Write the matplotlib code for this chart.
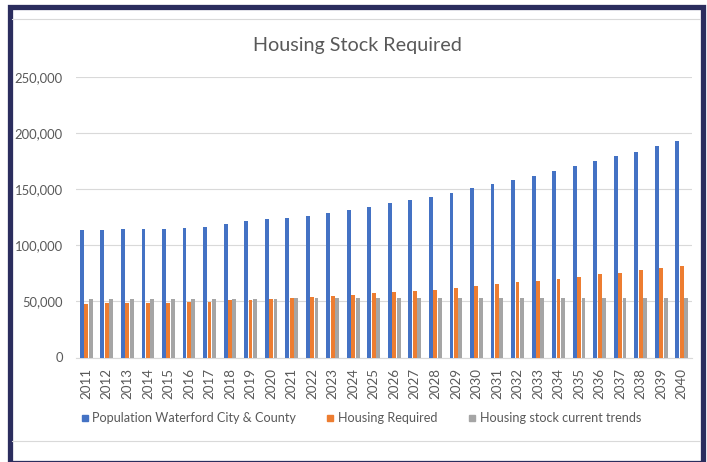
import numpy as np
import matplotlib
matplotlib.use("Agg")
from matplotlib import pyplot as plt
from matplotlib.patches import Rectangle
from matplotlib.lines import Line2D
from matplotlib.ticker import FuncFormatter

plt.rcParams['font.family'] = ['Lato', 'DejaVu Sans']

# data
years = [str(y) for y in range(2011, 2041)]
population = [113400, 114000, 114300, 114600, 114900, 115500, 116700, 119000,
              121400, 123200, 124700, 126500, 129200, 131500, 134500, 137800,
              140800, 143100, 147000, 150900, 154800, 158000, 162200, 166400,
              170500, 175000, 179200, 183600, 188100, 192900]
housing_required = [47600, 48200, 48500, 48500, 48800, 49400, 49700, 50900,
                    51500, 52400, 52900, 53800, 54700, 55600, 57100, 58000,
                    59200, 60400, 61600, 63400, 65400, 67000, 68500, 70200,
                    72000, 74100, 75600, 77700, 79700, 81500]
housing_trend = [52400] * 10 + [52700] * 20

series_names = ["Population Waterford City & County", "Housing Required",
                "Housing stock current trends"]
colors = ["#4472C4", "#ED7D31", "#A5A5A5"]
text_col = "#595959"
grid_col = "#D9D9D9"

fig = plt.figure(figsize=(7.07, 4.62), dpi=100)
fig.patch.set_facecolor("white")

ax = fig.add_axes([76 / 707, 1 - 357.5 / 462, 616 / 707, 280.5 / 462])
x = np.arange(len(years))
w = 0.19
off = 0.215
for i, vals in enumerate([population, housing_required, housing_trend]):
    ax.bar(x + (i - 1) * off, vals, width=w, color=colors[i],
           label=series_names[i], zorder=3)

ax.set_xlim(-0.5, len(years) - 0.5)
ax.set_ylim(0, 250000)
ax.set_yticks(np.arange(0, 250001, 50000))
ax.yaxis.set_major_formatter(FuncFormatter(lambda v, p: f"{int(v):,}"))
ax.set_xticks(x)
ax.set_xticklabels(years, rotation=90)
ax.tick_params(axis='both', length=0, colors=text_col)
ax.tick_params(axis='x', pad=7.5, labelsize=9.6)
ax.tick_params(axis='y', pad=9.4, labelsize=9.4)
ax.grid(axis='y', color=grid_col, lw=0.8, zorder=0)
for s in ['left', 'right', 'top']:
    ax.spines[s].set_visible(False)
ax.spines['bottom'].set_color(grid_col)
ax.spines['bottom'].set_linewidth(0.8)

fig.text(357 / 707, 1 - 45 / 462, "Housing Stock Required", ha='center',
         va='center', fontsize=14.2, color=text_col)

handles = [Line2D([], [], marker='s', ls='', color=c, markersize=5)
           for c in colors]
fig.legend(handles, series_names, loc='center', ncol=3,
           bbox_to_anchor=(361 / 707, 1 - 418 / 462), frameon=False,
           fontsize=9.1, labelcolor=text_col, handletextpad=0.33,
           columnspacing=2.4, handlelength=0.6)

# thin separator lines and navy frame
for yy in [19, 441]:
    fig.add_artist(Line2D([12 / 707, 700 / 707], [1 - yy / 462, 1 - yy / 462],
                          color=grid_col, lw=0.8, transform=fig.transFigure))
fig.add_artist(Rectangle((9.5 / 707, -1 / 462), 693 / 707, 456.5 / 462,
                         transform=fig.transFigure, fill=False,
                         edgecolor="#2B2D5E", lw=3.8))

fig.savefig("out.png", dpi=100)
